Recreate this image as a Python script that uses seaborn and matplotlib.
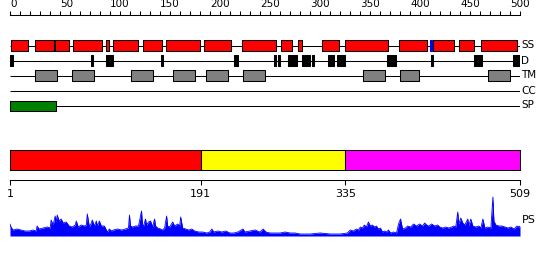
import matplotlib
matplotlib.use("Agg")
import matplotlib.pyplot as plt
import seaborn as sns
import pandas as pd

# ---------------- data ----------------
seq_len = 509
ruler_major = [0, 50, 100, 150, 200, 250, 300, 350, 400, 450, 500]
ruler_minor = list(range(0, 511, 10))

ss_helix = [(1, 18), (25, 44), (45, 59), (63, 92), (96, 99), (103, 128), (133, 152),
            (156, 190), (194, 221), (232, 266), (271, 282), (288, 292), (312, 329),
            (335, 378), (389, 417), (423, 444), (449, 464), (471, 507)]
ss_strand = [(420, 422)]
disorder = [(0, 3), (81, 83), (96, 103), (151, 153), (224, 228), (264, 266), (268, 270),
            (278, 287), (292, 300), (302, 304), (318, 324), (327, 335), (377, 386),
            (421, 423), (464, 472), (503, 510)]
tm = [(25, 47), (62, 84), (121, 143), (163, 185), (196, 218), (233, 255),
      (353, 375), (390, 409), (478, 500)]
cc = []
sp = [(0, 46)]

domain_bounds = [1, 191, 335, 509]
domain_colors = ["#ff0000", "#ffff00", "#ff00ff"]

ps_pos = [1, 2, 4, 8, 12, 16, 20, 24, 27, 28, 30, 34, 38, 41, 42, 44, 46, 47, 48, 50,
          52, 54, 57, 60, 63, 66, 67, 69, 72, 75, 77, 78, 80, 82, 83, 85, 87, 88, 90, 92,
          95, 98, 100, 102, 104, 108, 112, 116, 119, 120, 121, 123, 126, 129, 132, 133, 134, 136, 137, 139,
          141, 143, 145, 146, 148, 151, 153, 155, 157, 158, 160, 163, 165, 168, 170, 171, 173, 176, 179, 182,
          185, 189, 193, 197, 200, 202, 204, 208, 212, 216, 220, 224, 228, 233, 235, 240, 245, 250, 253, 256,
          260, 265, 270, 275, 280, 285, 290, 300, 310, 320, 330, 337, 340, 343, 346, 348, 350, 352, 354, 356,
          358, 360, 362, 364, 366, 368, 370, 372, 374, 376, 378, 380, 383, 386, 388, 390, 392, 395, 397, 400,
          403, 406, 409, 412, 414, 416, 418, 421, 424, 427, 429, 432, 435, 438, 441, 443, 445, 447, 448, 450,
          452, 454, 457, 458, 460, 462, 465, 468, 470, 472, 474, 477, 480, 482, 483, 485, 488, 491, 494, 497,
          500, 503, 506, 508, 509]
ps_val = [12, 9, 6, 7, 6, 5, 5, 6, 5, 10, 7, 8, 9, 8, 16, 11, 20, 14, 21, 15,
          17, 13, 14, 10, 9, 11, 15, 9, 11, 10, 11, 22, 9, 13, 16, 10, 15, 10, 15, 10,
          10, 4, 7, 5, 6, 7, 6, 7, 8, 21, 10, 9, 10, 10, 25, 11, 10, 17, 11, 14,
          15, 9, 17, 10, 8, 7, 6, 8, 20, 10, 9, 14, 10, 12, 10, 19, 8, 7, 6, 7,
          5, 4, 4, 3, 4, 7, 4, 5, 4, 5, 3, 3, 4, 7, 4, 5, 6, 4, 7, 4,
          3, 3, 3, 4, 3, 3, 2, 2, 3, 2, 2, 3, 6, 5, 7, 6, 9, 8, 11, 9,
          14, 10, 11, 9, 10, 7, 8, 4, 5, 4, 6, 3, 4, 3, 12, 17, 7, 8, 10, 9,
          12, 10, 12, 10, 13, 11, 10, 12, 10, 11, 9, 8, 9, 8, 9, 10, 9, 24, 12, 18,
          13, 11, 17, 10, 17, 10, 9, 10, 8, 17, 8, 9, 8, 39, 15, 11, 10, 10, 9, 8,
          9, 7, 10, 9, 10]

track_names = ["SS", "D", "TM", "CC", "SP"]

# ---------------- figure ----------------
sns.set_theme(style="white")
plt.rcParams["font.family"] = ["DejaVu Sans"]

W, H = 550, 260
fig = plt.figure(figsize=(W / 100, H / 100), dpi=100)
fig.patch.set_facecolor("white")


def px_axes(x0, y0, x1, y1):
    ax = fig.add_axes([x0 / W, 1 - y1 / H, (x1 - x0) / W, (y1 - y0) / H])
    ax.set_facecolor("none")
    return ax


LW = 0.75

# top ruler
ax_r = px_axes(10, 15, 520, 20)
ax_r.set_xlim(0, 510)
ax_r.set_ylim(0, 1)
for s in ["left", "right", "bottom"]:
    ax_r.spines[s].set_visible(False)
ax_r.spines["top"].set_color("black")
ax_r.spines["top"].set_linewidth(LW)
ax_r.xaxis.tick_top()
ax_r.set_yticks([])
ax_r.set_xticks(ruler_major)
ax_r.set_xticks(ruler_minor, minor=True)
ax_r.tick_params(axis="x", which="both", direction="out", length=3, width=LW,
                 color="black", pad=1, labelsize=7.5, labelcolor="black", top=True, bottom=False)
for lab in ax_r.get_xticklabels():
    lab.set_horizontalalignment("left")

# tracks
ax_t = px_axes(10, 35, 520, 115)
ax_t.set_xlim(0, 510)
ax_t.set_ylim(115, 35)
ax_t.axis("off")
rows = {"SS": 45.5, "D": 60.5, "TM": 75.5, "CC": 90.5, "SP": 105.5}
for name in track_names:
    y = rows[name]
    ax_t.hlines(y, 0, 510, color="black", lw=LW, zorder=1)
    ax_t.text(511, y, name, ha="left", va="center", fontsize=7.5, color="black", clip_on=False)


def boxes(feats, y, h, fc, ec="black"):
    ax_t.broken_barh([(s, e - s) for s, e in feats], (y - h / 2, h), facecolors=fc,
                     edgecolors=ec, linewidth=LW, zorder=2)


boxes(ss_helix, rows["SS"], 11, "#ff0000")
boxes(ss_strand, rows["SS"], 11, "#0000ff", ec="#0000ff")
boxes(disorder, rows["D"], 11, "black")
boxes(tm, rows["TM"], 11, "#808080")
if cc:
    boxes(cc, rows["CC"], 11, "#00ffff")
boxes(sp, rows["SP"], 10, "#008000")

# domain bar
ax_d = px_axes(10, 150, 520, 170)
ax_d.set_xlim(1, 509)
ax_d.set_ylim(0, 1)
ax_d.axis("off")
for i, c in enumerate(domain_colors):
    a, b = domain_bounds[i], domain_bounds[i + 1]
    ax_d.broken_barh([(a, b - a)], (0, 1), facecolors=c, edgecolors="black",
                     linewidth=LW, clip_on=False)

# bottom ruler
ax_b = px_axes(10, 175, 520, 180)
ax_b.set_xlim(1, 509)
ax_b.set_ylim(0, 1)
for s in ["left", "right", "top"]:
    ax_b.spines[s].set_visible(False)
ax_b.spines["bottom"].set_color("black")
ax_b.spines["bottom"].set_linewidth(LW)
ax_b.set_yticks([])
ax_b.set_xticks(domain_bounds)
ax_b.set_xticklabels([str(v) for v in domain_bounds])
ax_b.tick_params(axis="x", direction="out", length=3.5, width=LW, color="black",
                 pad=3, labelsize=8, labelcolor="black", bottom=True)

# PS profile
ax_p = px_axes(10, 195, 520, 236)
ax_p.set_xlim(1, 509)
ax_p.set_ylim(0, 41)
ax_p.axis("off")
df = pd.DataFrame({"pos": ps_pos, "ps": ps_val})
ax_p.fill_between(df["pos"], 0, df["ps"], color="#0000ff", lw=0)
sns.lineplot(data=df, x="pos", y="ps", ax=ax_p, color="#0000ff", lw=0.6)
ax_p.text(511, 16, "PS", ha="left", va="center", fontsize=8, color="black", clip_on=False)

fig.savefig("out.png", dpi=100)
